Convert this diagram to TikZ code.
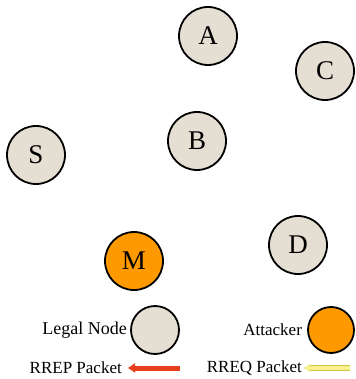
\documentclass[tikz,border=0pt]{standalone}
\usepackage{fontspec}
\setmainfont{Liberation Serif}
\usetikzlibrary{positioning,arrows.meta}
\definecolor{legalfill}{RGB}{229,222,210}
\definecolor{attackfill}{RGB}{255,153,0}
\definecolor{rrepred}{RGB}{232,64,28}
\definecolor{rreqyellow}{RGB}{246,242,140}
\definecolor{rreqedge}{RGB}{205,195,70}
\begin{document}
\begin{tikzpicture}[x=1pt,y=-1pt,
    legal/.style={circle,draw=black,line width=1.8pt,fill=legalfill,
        minimum size=58pt,inner sep=0pt,font=\fontsize{27}{27}\selectfont},
    attacker/.style={legal,fill=attackfill},
    keytext/.style={font=\fontsize{17}{17}\selectfont,inner sep=0pt}]
    \useasboundingbox (0,0) rectangle (355,379);
    % network
    \node[legal] (A) at (208,36) {A};
    \node[legal] (C) at (325,71) {C};
    \node[legal] (B) at (197,141) {B};
    \node[legal] (S) at (36,155) {S};
    \node[legal] (D) at (298,245) {D};
    \node[attacker] (M) at (134,261) {M};
    % legend
    \node[legal,minimum size=48pt] (legalkey) at (155,330) {};
    \node[keytext,font=\fontsize{18}{18}\selectfont,left=3pt of legalkey] (legaltext) {Legal Node};
    \node[attacker,minimum size=46pt] (attackkey) at (331,330) {};
    \node[keytext,left=5pt of attackkey] (attacktext) {Attacker};
    \node[keytext,anchor=east] (rreptext) at (122,368) {RREP Packet};
    \node[keytext,anchor=east] (rreqtext) at (302,368) {RREQ Packet};
    \coordinate (rrepstart) at (180,368);
    \coordinate (rrepend) at (128,368);
    \coordinate (rreqstart) at (350,368);
    \coordinate (rreqend) at (304,368);
    \draw[rrepred,line width=5pt,-{Triangle[length=7pt,width=9pt]}] (rrepstart) -- (rrepend);
    \draw[rreqyellow,line width=4pt,-{Triangle[length=6pt,width=7pt]},
        preaction={draw=rreqedge,line width=5.5pt,-{Triangle[length=6pt,width=7pt]}}]
        (rreqstart) -- (rreqend);
\end{tikzpicture}
\end{document}
